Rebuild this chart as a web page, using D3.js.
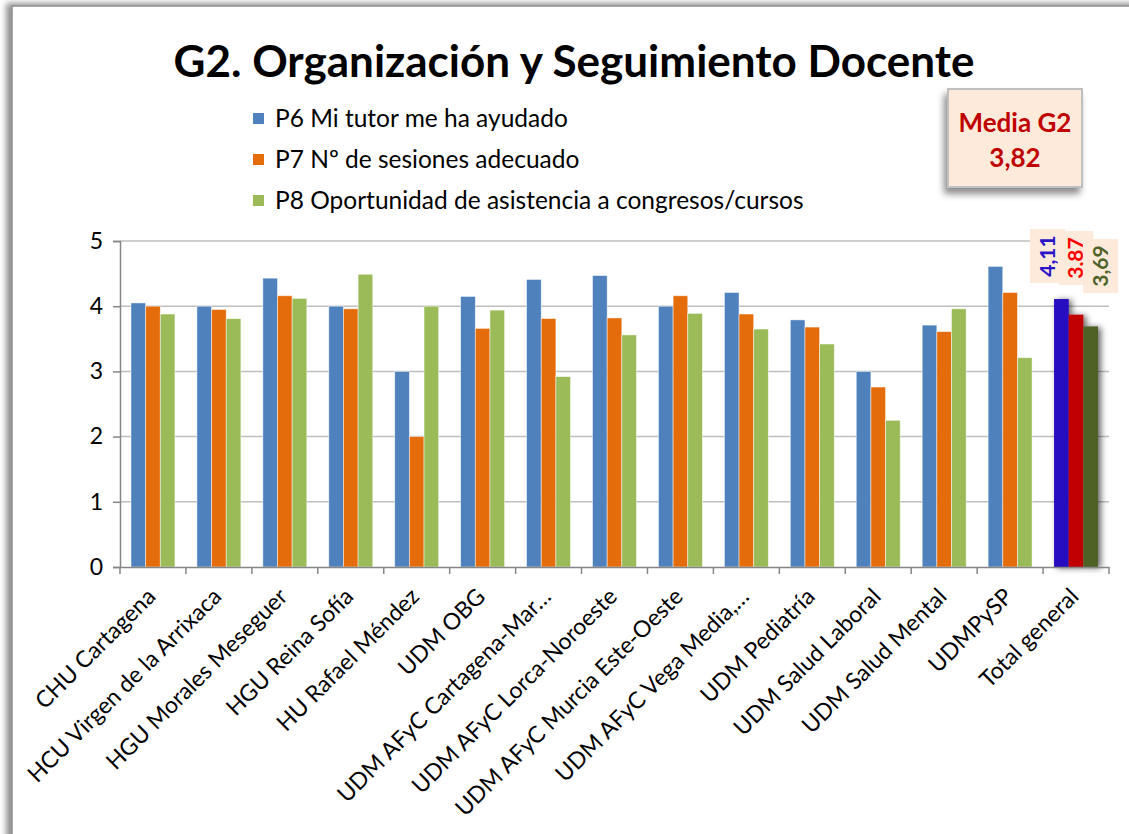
<!DOCTYPE html>
<html>
<head>
<meta charset="utf-8">
<script src="https://cdn.jsdelivr.net/npm/d3@7"></script>
<style>
  body { margin: 0; background: #fff; }
  svg { display: block; font-family: Lato, 'Open Sans', sans-serif; }
</style>
</head>
<body>
<svg id="chart"></svg>
<script>
// data
const categories = [
  'CHU Cartagena', 'HCU Virgen de la Arrixaca', 'HGU Morales Meseguer', 'HGU Reina Sofía',
  'HU Rafael Méndez', 'UDM OBG', 'UDM AFyC Cartagena-Mar…', 'UDM AFyC Lorca-Noroeste',
  'UDM AFyC Murcia Este-Oeste', 'UDM AFyC Vega Media,…', 'UDM Pediatría', 'UDM Salud Laboral',
  'UDM Salud Mental', 'UDMPySP', 'Total general'
];
const seriesNames = [
  'P6 Mi tutor me ha ayudado',
  'P7 Nº de sesiones adecuado',
  'P8 Oportunidad de asistencia a congresos/cursos'
];
const p6 = [4.05, 4.00, 4.43, 4.00, 3.00, 4.15, 4.41, 4.47, 4.00, 4.21, 3.79, 3.00, 3.71, 4.61, 4.11];
const p7 = [4.00, 3.95, 4.16, 3.96, 2.00, 3.66, 3.81, 3.82, 4.16, 3.88, 3.68, 2.76, 3.61, 4.21, 3.87];
const p8 = [3.88, 3.81, 4.12, 4.49, 4.00, 3.94, 2.92, 3.56, 3.89, 3.65, 3.42, 2.25, 3.96, 3.21, 3.69];
const yTicks = [0, 1, 2, 3, 4, 5];
const titleText = 'G2. Organización y Seguimiento Docente';
const mediaLabel = 'Media G2';
const mediaValue = 3.82;

const series = [p6, p7, p8];
const COLORS = ['#4F81BD', '#E46C0A', '#9BBB59'];
const TOTAL_COLORS = ['#2709BF', '#C00000', '#4F6228'];
const LABEL_COLORS = ['#2A14C8', '#FF0000', '#4F6228'];

const locale = d3.formatLocale({ decimal: ',', thousands: '.', grouping: [3], currency: ['', '€'] });
const fmt = locale.format('.2f');

const width = 1129;
const height = 834;
const margin = { top: 241, right: 20, bottom: 267, left: 120 };

const svg = d3.select('#chart')
    .attr('width', width)
    .attr('height', height);

const defs = svg.append('defs');
defs.append('filter')
    .attr('id', 'frameShadow')
    .attr('x', '-5%').attr('y', '-5%').attr('width', '110%').attr('height', '110%')
    .append('feDropShadow')
    .attr('dx', -5).attr('dy', -2).attr('stdDeviation', 3)
    .attr('flood-color', '#000').attr('flood-opacity', 0.45);
defs.append('filter')
    .attr('id', 'boxShadow')
    .attr('x', '-30%').attr('y', '-30%').attr('width', '160%').attr('height', '160%')
    .append('feDropShadow')
    .attr('dx', -3).attr('dy', 6).attr('stdDeviation', 3.5)
    .attr('flood-color', '#000').attr('flood-opacity', 0.45);
defs.append('filter')
    .attr('id', 'barShadow')
    .attr('x', '-50%').attr('y', '-10%').attr('width', '200%').attr('height', '120%')
    .append('feDropShadow')
    .attr('dx', 3).attr('dy', 1).attr('stdDeviation', 3)
    .attr('flood-color', '#000').attr('flood-opacity', 0.6);

// chart frame
svg.append('rect')
    .attr('x', 12).attr('y', 6)
    .attr('width', width + 20).attr('height', height + 20)
    .attr('fill', '#fff')
    .attr('stroke', '#8c8c8c')
    .attr('stroke-width', 1.5)
    .attr('filter', 'url(#frameShadow)');

// title
svg.append('text')
    .attr('x', 574).attr('y', 77)
    .attr('text-anchor', 'middle')
    .attr('font-size', 44)
    .attr('font-weight', 'bold')
    .attr('fill', '#000')
    .text(titleText);

// scales
const x = d3.scaleBand()
    .domain(categories)
    .range([margin.left, width - margin.right])
    .paddingInner(0)
    .paddingOuter(0);

const x1 = d3.scaleBand()
    .domain([0, 1, 2])
    .range([0, x.bandwidth()])
    .paddingInner(0)
    .paddingOuter(0.75);

const y = d3.scaleLinear()
    .domain([0, 5])
    .range([height - margin.bottom, margin.top]);

// grid
svg.append('g')
    .selectAll('line')
    .data(yTicks.filter((d) => d > 0))
    .enter()
    .append('line')
    .attr('x1', margin.left)
    .attr('x2', width - margin.right)
    .attr('y1', (d) => y(d))
    .attr('y2', (d) => y(d))
    .attr('stroke', '#BFBFBF')
    .attr('stroke-width', 1.5);

// bars
const groups = svg.append('g')
    .selectAll('g')
    .data(categories)
    .enter()
    .append('g')
    .attr('transform', (d) => `translate(${x(d)},0)`);

groups.each(function(cat, ci) {
  const isTotal = cat === 'Total general';
  const g = d3.select(this);
  if (isTotal) g.attr('filter', 'url(#barShadow)');
  g.selectAll('rect')
      .data(series.map((s, si) => ({ si: si, v: s[ci] })))
      .enter()
      .append('rect')
      .attr('x', (d) => x1(d.si))
      .attr('width', x1.bandwidth())
      .attr('y', (d) => y(d.v))
      .attr('height', (d) => y(0) - y(d.v))
      .attr('fill', (d) => isTotal ? TOTAL_COLORS[d.si] : COLORS[d.si])
      .attr('stroke', isTotal ? 'none' : 'rgba(255,255,255,0.6)')
      .attr('stroke-width', 0.8);
});

// y axis
const yAxis = svg.append('g')
    .attr('transform', `translate(${margin.left},0)`)
    .call(d3.axisLeft(y).tickValues(yTicks).tickSize(7).tickPadding(10).tickFormat(d3.format('d')));
yAxis.select('.domain').attr('stroke', '#868686').attr('stroke-width', 1.5);
yAxis.selectAll('.tick line').attr('stroke', '#868686').attr('stroke-width', 1.5);
yAxis.selectAll('.tick text')
    .attr('font-size', 23)
    .attr('font-family', 'Lato, sans-serif')
    .attr('fill', '#000');

// x axis
const xAxis = svg.append('g')
    .attr('transform', `translate(0,${y(0)})`)
    .call(d3.axisBottom(x).tickSize(0).tickFormat(''));
xAxis.select('.domain').attr('stroke', '#868686').attr('stroke-width', 1.5);

const boundaries = categories.map((c) => x(c)).concat([x(categories[categories.length - 1]) + x.bandwidth()]);
xAxis.selectAll('.boundary')
    .data(boundaries)
    .enter()
    .append('line')
    .attr('class', 'boundary')
    .attr('x1', (d) => d).attr('x2', (d) => d)
    .attr('y1', 0).attr('y2', 7)
    .attr('stroke', '#868686')
    .attr('stroke-width', 1.5);

svg.append('g')
    .selectAll('text')
    .data(categories)
    .enter()
    .append('text')
    .attr('transform', (d) => `translate(${x(d) + x.bandwidth() / 2 + 4},${y(0) + 31}) rotate(-45)`)
    .attr('text-anchor', 'end')
    .attr('font-size', 23)
    .attr('fill', '#000')
    .text((d) => d);

// legend
const legend = svg.append('g');
const legendRow = (i) => 118 + i * 41;
legend.selectAll('rect')
    .data(seriesNames)
    .enter()
    .append('rect')
    .attr('x', 253)
    .attr('y', (d, i) => legendRow(i) - 5)
    .attr('width', 11)
    .attr('height', 11)
    .attr('fill', (d, i) => COLORS[i]);
legend.selectAll('text')
    .data(seriesNames)
    .enter()
    .append('text')
    .attr('x', 275)
    .attr('y', (d, i) => legendRow(i))
    .attr('dy', '0.35em')
    .attr('font-size', 24.5)
    .attr('fill', '#000')
    .text((d) => d);

// media box
const media = svg.append('g');
media.append('rect')
    .attr('x', 948).attr('y', 89)
    .attr('width', 134).attr('height', 98)
    .attr('fill', '#FDEADA')
    .attr('stroke', '#BFBFBF')
    .attr('stroke-width', 2)
    .attr('filter', 'url(#boxShadow)');
media.append('text')
    .attr('x', 1015).attr('y', 123)
    .attr('dy', '0.35em')
    .attr('text-anchor', 'middle')
    .attr('font-size', 26)
    .attr('font-weight', 'bold')
    .attr('fill', '#C00000')
    .text(mediaLabel);
media.append('text')
    .attr('x', 1015).attr('y', 158)
    .attr('dy', '0.35em')
    .attr('text-anchor', 'middle')
    .attr('font-size', 26)
    .attr('font-weight', 'bold')
    .attr('fill', '#C00000')
    .text(fmt(mediaValue));

// data labels for the total group
const totalCat = 'Total general';
const totalIndex = categories.indexOf(totalCat);
const labelShift = [-14, 0, 10];
const labelTop = [y(5) - 12, y(5) - 10, y(5) - 2];
const labels = svg.append('g')
    .selectAll('g')
    .data(series.map((s, si) => ({ si: si, v: s[totalIndex] })))
    .enter()
    .append('g')
    .attr('transform', (d) => `translate(${x(totalCat) + x1(d.si) + x1.bandwidth() / 2 + labelShift[d.si]},${labelTop[d.si]})`);
labels.append('rect')
    .attr('x', -17.5).attr('y', 0)
    .attr('width', 35).attr('height', 54)
    .attr('fill', '#FDEADA');
labels.append('text')
    .attr('transform', 'translate(0,27) rotate(-90)')
    .attr('text-anchor', 'middle')
    .attr('dy', '0.35em')
    .attr('font-size', 21)
    .attr('font-weight', 'bold')
    .attr('fill', (d) => LABEL_COLORS[d.si])
    .text((d) => fmt(d.v));
</script>
</body>
</html>
